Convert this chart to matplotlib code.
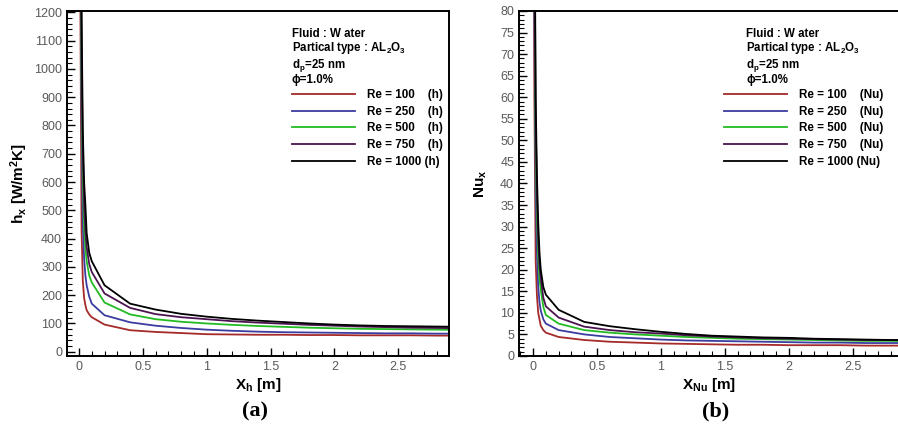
import matplotlib
matplotlib.use('Agg')
import matplotlib.pyplot as plt
from matplotlib import rcParams
from matplotlib.ticker import MultipleLocator

rcParams['font.family'] = ['Liberation Sans', 'DejaVu Sans']
rcParams['mathtext.fontset'] = 'custom'
rcParams['mathtext.rm'] = 'Liberation Sans:bold'
rcParams['mathtext.it'] = 'Liberation Sans:bold'
rcParams['mathtext.bf'] = 'Liberation Sans:bold'

# axial positions [m]
x = [0.0, 0.01, 0.02, 0.03, 0.04, 0.05, 0.06, 0.08, 0.1, 0.2, 0.4, 0.6,
     0.8, 1.0, 1.2, 1.4, 1.6, 1.8, 2.0, 2.2, 2.4, 2.6, 2.8, 3.0]

re_labels = ['Re = 100', 'Re = 250', 'Re = 500', 'Re = 750', 'Re = 1000']
colors = ['#a52a2a', '#3c3ca0', '#22bb22', '#4b1450', '#000000']

# local heat transfer coefficient h_x [W/m2K]
h_100 = [2200, 1300, 430, 250, 190, 165, 147, 132, 122, 96, 76, 70, 66, 62, 61, 60, 60, 59, 59, 58, 58, 58, 57, 57]
h_250 = [3000, 1600, 800, 450, 330, 270, 235, 195, 170, 129, 104, 92, 84, 78, 74, 71, 69, 68, 67, 66, 65, 65, 64, 64]
h_500 = [3500, 1900, 950, 600, 440, 370, 320, 270, 245, 174, 132, 115, 106, 100, 95, 91, 88, 85, 83, 81, 80, 79, 78, 77]
h_750 = [4000, 2100, 1050, 700, 520, 430, 370, 310, 282, 206, 155, 133, 122, 115, 108, 103, 99, 95, 92, 89, 87, 85, 84, 83]
h_1000 = [4500, 2400, 1200, 780, 600, 520, 420, 350, 320, 235, 170, 149, 134, 124, 116, 110, 105, 100, 96, 93, 91, 90, 89, 88]

# local Nusselt number
nu_100 = [150, 60, 22, 14, 10, 8.5, 7.0, 6.0, 5.4, 4.4, 3.7, 3.3, 3.1, 2.9, 2.8, 2.7, 2.6, 2.6, 2.5, 2.5, 2.5, 2.4, 2.4, 2.4]
nu_250 = [200, 80, 38, 24, 16, 12.5, 10.5, 8.5, 7.5, 6.0, 5.0, 4.4, 4.1, 3.8, 3.6, 3.5, 3.4, 3.3, 3.2, 3.1, 3.1, 3.0, 3.0, 3.0]
nu_500 = [240, 95, 48, 32, 23, 18, 15.3, 11.4, 9.5, 7.5, 6.0, 5.4, 5.0, 4.7, 4.4, 4.2, 4.0, 3.9, 3.8, 3.7, 3.6, 3.5, 3.5, 3.4]
nu_750 = [270, 105, 55, 37, 27, 21, 18, 13.5, 11.5, 8.9, 6.8, 6.0, 5.5, 5.2, 4.8, 4.5, 4.3, 4.1, 4.0, 3.9, 3.8, 3.7, 3.7, 3.6]
nu_1000 = [300, 115, 60, 42, 31, 24, 20, 16, 14.2, 10.7, 7.9, 6.9, 6.2, 5.6, 5.1, 4.7, 4.5, 4.3, 4.2, 4.0, 3.9, 3.8, 3.7, 3.7]

h_series = [h_100, h_250, h_500, h_750, h_1000]
nu_series = [nu_100, nu_250, nu_500, nu_750, nu_1000]

header = ['Fluid : W ater',
          r'Partical type : AL$_{\mathrm{2}}$O$_{\mathrm{3}}$',
          r'd$_{\mathrm{p}}$=25 nm',
          '\u03d5=1.0%']

fig = plt.figure(figsize=(8.98, 4.32), dpi=100)
ax1 = fig.add_axes([0.0746, 0.176, 0.4254, 0.7986])
ax2 = fig.add_axes([0.578, 0.176, 0.4235, 0.7986])


def style(ax, xmin, xmax, ymin, ymax, ymajor, yminor):
    ax.set_xlim(xmin, xmax)
    ax.set_ylim(ymin, ymax)
    ax.xaxis.set_major_locator(MultipleLocator(0.5))
    ax.xaxis.set_minor_locator(MultipleLocator(0.1))
    ax.yaxis.set_major_locator(MultipleLocator(ymajor))
    ax.yaxis.set_minor_locator(MultipleLocator(yminor))
    ax.tick_params(which='both', direction='in', labelsize=9, labelcolor='#5a5a5a')
    ax.tick_params(which='major', length=6, width=1)
    ax.tick_params(which='minor', length=3.5, width=0.8)
    ax.xaxis.set_major_formatter(plt.FuncFormatter(lambda v, p: '%g' % v))
    for s in ax.spines.values():
        s.set_linewidth(1.4)


def draw(ax, series, suffix, hx, lx):
    lines = []
    for ys, c, lab in zip(series, colors, re_labels):
        ln, = ax.plot(x, ys, color=c, lw=1.3, label=lab)
        lines.append(ln)
    pad = ['    ', '    ', '    ', '    ', ' ']
    labels = [lab + p + suffix for lab, p in zip(re_labels, pad)]
    ax.legend(lines, labels, loc='upper left', bbox_to_anchor=(lx, 0.774),
              frameon=False, borderpad=0, borderaxespad=0, handlelength=5.4,
              handletextpad=1.0, labelspacing=0.4,
              prop={'size': 8.4, 'weight': 'bold'})
    # header block as one multi-line text
    ax.text(hx, 0.952, '\n'.join(header), transform=ax.transAxes, fontsize=8.3,
            fontweight='bold', va='top', ha='left', linespacing=1.05)


draw(ax1, h_series, '(h)', 0.589, 0.589)
style(ax1, -0.094, 2.897, -15, 1205, 100, 20)
ax1.set_xlabel(r'X$_{\mathrm{h}}$ [m]', fontsize=11, fontweight='bold', labelpad=2)
ax1.set_ylabel(r'h$_{\mathrm{x}}$ [W/m$^{\mathrm{2}}$K]', fontsize=11, fontweight='bold', labelpad=3)

draw(ax2, nu_series, '(Nu)', 0.597, 0.54)
style(ax2, -0.11, 2.866, 0, 80, 5, 1)
ax2.set_xlabel(r'X$_{\mathrm{Nu}}$ [m]', fontsize=11, fontweight='bold', labelpad=2)
ax2.set_ylabel(r'Nu$_{\mathrm{x}}$', fontsize=11, fontweight='bold', labelpad=8)

fig.text(255 / 898, 1 - 411 / 432, '(a)', family='Liberation Serif', fontweight='bold',
         fontsize=16, ha='center', va='center')
fig.text(716 / 898, 1 - 411 / 432, '(b)', family='Liberation Serif', fontweight='bold',
         fontsize=16, ha='center', va='center')

fig.savefig('out.png', dpi=100)
